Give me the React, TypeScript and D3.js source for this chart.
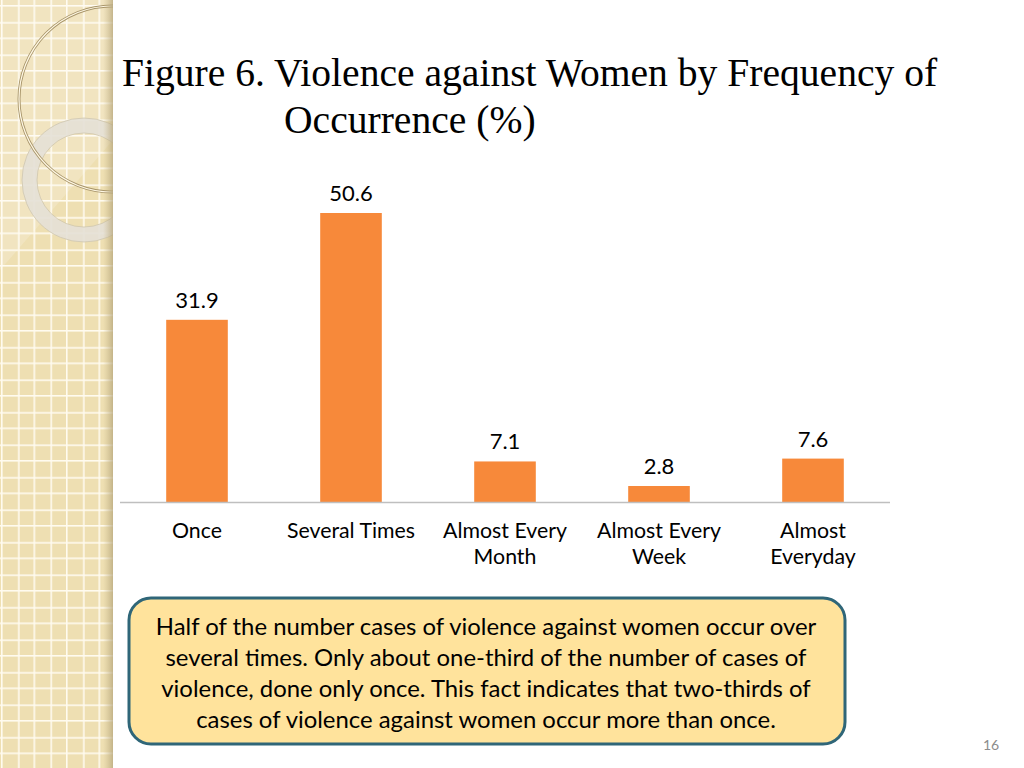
import React from "react";
import * as d3 from "d3";

const categories: string[][] = [
  ["Once"],
  ["Several Times"],
  ["Almost Every", "Month"],
  ["Almost Every", "Week"],
  ["Almost", "Everyday"],
];
const values: number[] = [31.9, 50.6, 7.1, 2.8, 7.6];
const valueLabels: string[] = ["31.9", "50.6", "7.1", "2.8", "7.6"];
const titleLines: string[] = [
  "Figure 6. Violence against Women by Frequency of",
  "Occurrence (%)",
];
const noteLines: string[] = [
  "Half of the number cases of violence against women occur over",
  "several times. Only about one-third of the number of cases of",
  "violence, done only once. This fact indicates that two-thirds of",
  "cases of violence against women occur more than once.",
];
const pageNumber = "16";

const W = 1024;
const H = 768;
const sansFont = "'Gill Sans', 'Gill Sans MT', Lato, 'Open Sans', sans-serif";

export default function App() {
  const x = d3
    .scaleBand<number>()
    .domain(d3.range(values.length))
    .range([120, 890])
    .paddingInner(0.6)
    .paddingOuter(0.3);
  const y = d3.scaleLinear().domain([0, 50.6]).range([502, 213]);

  const stripW = 113;

  return (
    <svg
      width={W}
      height={H}
      style={{ position: "absolute", left: 0, top: 0, background: "#fff" }}
    >
      <defs>
        <pattern id="grid" width={32.5} height={32.5} patternUnits="userSpaceOnUse" x={1} y={5}>
          <rect width={32.5} height={32.5} fill="#EEDFB2" />
          <rect x={0} y={0} width={32.5} height={1.6} fill="#FFFBEF" />
          <rect x={0} y={17} width={32.5} height={1.6} fill="#FFFBEF" />
          <rect x={0} y={0} width={1.6} height={32.5} fill="#FFFBEF" />
          <rect x={17} y={0} width={1.6} height={32.5} fill="#FFFBEF" />
        </pattern>
        <linearGradient id="edge" x1="0" x2="1" y1="0" y2="0">
          <stop offset="0" stopColor="#C9B88A" stopOpacity="0" />
          <stop offset="1" stopColor="#B5A57A" stopOpacity="0.75" />
        </linearGradient>
        <clipPath id="stripClip">
          <rect x={0} y={0} width={stripW} height={H} />
        </clipPath>
      </defs>

      {/* Decorative left strip */}
      <g clipPath="url(#stripClip)">
        <rect x={0} y={0} width={stripW} height={H} fill="url(#grid)" />
        <path d="M0,270 L113,140 L113,0 L0,0 Z" fill="#FFFFFF" opacity={0.18} />
        <circle cx={84} cy={180} r={54.5} fill="none" stroke="#E4E0D6" strokeWidth={15} opacity={0.9} />
        <circle cx={84} cy={180} r={62} fill="none" stroke="#CFC6AE" strokeWidth={0.8} />
        <circle cx={84} cy={180} r={47} fill="none" stroke="#CFC6AE" strokeWidth={0.8} />
        <circle cx={112} cy={99} r={93} fill="none" stroke="#A8956A" strokeWidth={3} />
        <circle cx={112} cy={99} r={93} fill="none" stroke="#FFF8E4" strokeWidth={1.2} />
        <rect x={stripW - 10} y={0} width={10} height={H} fill="url(#edge)" />
      </g>

      {/* Title */}
      <g fontFamily="'Times New Roman', 'Liberation Serif', serif" fontSize={39.6} fill="#000">
        <text x={122} y={86}>{titleLines[0]}</text>
        <text x={284} y={133}>{titleLines[1]}</text>
      </g>

      {/* Bars */}
      {values.map((v, i) => (
        <rect
          key={i}
          x={x(i)}
          y={y(v)}
          width={x.bandwidth()}
          height={y(0) - y(v)}
          fill="#F7893A"
        />
      ))}

      {/* Axis line */}
      <line x1={120} x2={890} y1={y(0) + 0.5} y2={y(0) + 0.5} stroke="#BFBFBF" strokeWidth={1.5} />

      {/* Value labels */}
      {values.map((v, i) => (
        <text
          key={i}
          x={(x(i) as number) + x.bandwidth() / 2}
          y={y(v) - 12}
          textAnchor="middle"
          fontFamily={sansFont}
          fontSize={22}
          fill="#000"
        >
          {valueLabels[i]}
        </text>
      ))}

      {/* Category labels */}
      {categories.map((lines, i) => (
        <text
          key={i}
          textAnchor="middle"
          fontFamily={sansFont}
          fontSize={21.3}
          fill="#000"
        >
          {lines.map((l, j) => (
            <tspan key={j} x={(x(i) as number) + x.bandwidth() / 2} y={538 + j * 26}>
              {l}
            </tspan>
          ))}
        </text>
      ))}

      {/* Note box */}
      <rect
        x={129}
        y={598}
        width={716}
        height={146}
        rx={22}
        ry={22}
        fill="#FFE39C"
        stroke="#2F6678"
        strokeWidth={3}
      />
      <g fontFamily={sansFont} fontSize={23.9} fill="#000" textAnchor="middle">
        {noteLines.map((l, i) => (
          <text key={i} x={486} y={635 + i * 31}>
            {l}
          </text>
        ))}
      </g>

      {/* Page number */}
      <text x={991} y={750} textAnchor="middle" fontFamily={sansFont} fontSize={14} fill="#8C8C8C">
        {pageNumber}
      </text>
    </svg>
  );
}
